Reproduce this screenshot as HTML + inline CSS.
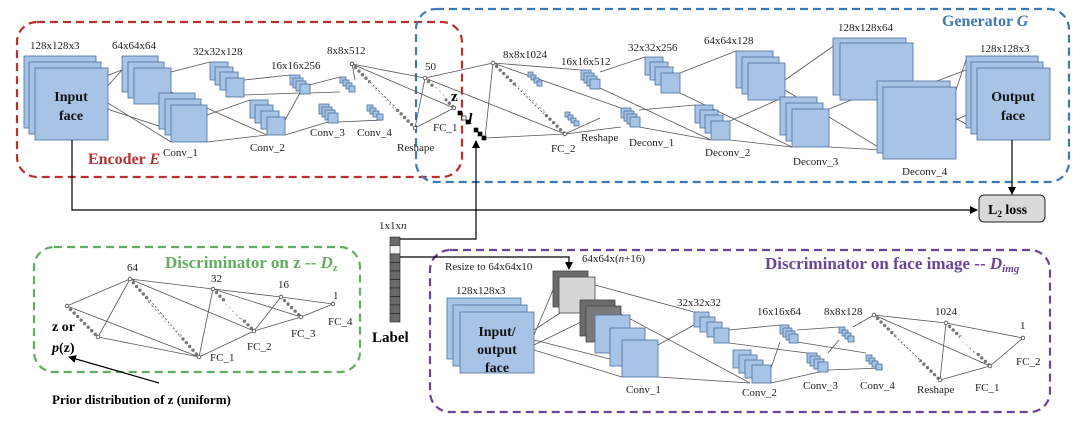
<!DOCTYPE html>
<html><head><meta charset="utf-8"><style>
html,body{margin:0;padding:0;background:#fff;}
svg{display:block;font-family:"Liberation Serif",serif;}
.l{font-size:11px;fill:#222;}
.b{font-weight:bold;}
</style></head><body>
<svg width="1080" height="422" viewBox="0 0 1080 422" xmlns="http://www.w3.org/2000/svg">
<defs>
<marker id="ar" markerWidth="8" markerHeight="8" refX="7" refY="4" orient="auto" markerUnits="userSpaceOnUse"><path d="M0,0 L8,4 L0,8 z" fill="#000"/></marker>
</defs>
<g fill="none" stroke-width="2.2" stroke-dasharray="8,5">
<rect x="17" y="22" width="445" height="155" rx="20" stroke="#b8312f"/>
<rect x="416" y="9" width="653" height="173" rx="20" stroke="#3e78b5"/>
<rect x="34" y="247" width="326" height="125" rx="20" stroke="#62ad5e"/>
<rect x="430" y="250" width="620" height="162" rx="20" stroke="#6b4596"/>
</g>
<g stroke="#555" stroke-width="0.8" fill="none">
<path d="M95,80 L122,70 M95,100 L122,70 M95,95 L171,142 M95,105 L171,130 M171,72 L210,62 M171,92 L267,135 M207,115 L250,100 M207,142 L267,135"/>
<path d="M244,80 L290,75 M244,95 L300,93 M285,120 L300,93 M285,135 L328,122 M309,85 L340,77 M338,122 L383,120 M309,93 L340,92 M355,80 L352,64"/>
<path d="M352,64 L425,78 M352,64 L454,108 M415,128 L425,78 M415,128 L454,108"/>
<path d="M425,78 L493,63 M425,78 L565,134 M485,138 L493,63 M485,138 L565,134"/>
<path d="M493,63 L581,70 M493,63 L621,108 M565,134 L600,118 M565,134 L621,127"/>
<path d="M600,72 L645,57 M600,88 L711,140 M639,110 L695,105 M639,127 L711,140"/>
<path d="M680,73 L736,51 M680,93 L792,147 M730,121 L782,98 M730,140 L792,147"/>
<path d="M785,80 L835,45 M785,90 L883,150 M829,109 L883,87 M829,147 L883,150"/>
<path d="M913,90 L966,70 M913,95 L977,130 M956,90 L966,60 M956,120 L977,110"/>
<path d="M67,306 L130,279 M67,306 L199,357 M98,337 L130,279 M98,337 L199,357 M130,279 L213,289 M130,279 L254,331 M199,357 L213,289 M199,357 L254,331 M213,289 L281,297 M213,289 L301,317 M254,331 L281,297 M254,331 L301,317 M281,297 L333,304 M301,317 L333,304 M213,289 L301,317"/>
<path d="M534,330 L580,300 M534,345 L595,315 M534,335 L553,290 M534,350 L622,377 M534,340 L622,362 M595,285 L694,312 M595,300 L750,383 M658,345 L694,325 M658,377 L750,383"/>
<path d="M729,330 L780,325 M729,343 L807,353 M771,368 L780,342 M771,383 L828,370 M797,330 L839,327 M797,342 L866,353 M828,353 L839,340 M828,370 L883,368"/>
<path d="M853,327 L874,315 M874,315 L946,323 M874,315 L990,366 M940,380 L946,323 M940,380 L990,366 M946,323 L1023,338 M990,366 L1023,338"/>
</g>
<g stroke="#777" stroke-width="3.4" stroke-linecap="round" stroke-dasharray="0 5" fill="none">
<path d="M352,64 L415,128"/><path d="M425,78 L454,108"/><path d="M493,63 L565,134"/>
<path d="M67,306 L98,337"/><path d="M130,279 L199,357"/><path d="M213,289 L254,331"/><path d="M281,297 L301,317"/>
<path d="M874,315 L940,380"/><path d="M946,323 L990,366"/>
</g>
<g fill="#fff" stroke="#fff" stroke-width="3">
<path d="M370,82 L396,108"/><path d="M434,88 L445,99"/><path d="M515,85 L543,113"/><path d="M150,300 L180,336"/><path d="M225,301 L242,318"/><path d="M895,336 L920,360"/><path d="M960,337 L977,352"/>
</g>
<g stroke="#444" stroke-width="0.8" stroke-dasharray="2,2" fill="none">
<path d="M370,82 L396,108"/><path d="M515,85 L543,113"/><path d="M150,300 L180,336"/><path d="M895,336 L920,360"/>
</g>
<g fill="#fff" stroke="#444" stroke-width="0.8">
<circle cx="352" cy="64" r="1.8"/><circle cx="415" cy="128" r="1.8"/><circle cx="425" cy="78" r="1.8"/><circle cx="454" cy="108" r="1.8"/><circle cx="493" cy="63" r="1.8"/><circle cx="565" cy="134" r="1.8"/>
<circle cx="67" cy="306" r="1.8"/><circle cx="98" cy="337" r="1.8"/><circle cx="130" cy="279" r="1.8"/><circle cx="199" cy="357" r="1.8"/><circle cx="213" cy="289" r="1.8"/><circle cx="254" cy="331" r="1.8"/><circle cx="281" cy="297" r="1.8"/><circle cx="301" cy="317" r="1.8"/><circle cx="333" cy="304" r="1.8"/>
<circle cx="874" cy="315" r="1.8"/><circle cx="940" cy="380" r="1.8"/><circle cx="946" cy="323" r="1.8"/><circle cx="990" cy="366" r="1.8"/><circle cx="1023" cy="338" r="1.8"/>
</g>
<g stroke="#000" stroke-width="0.6">
<rect x="458" y="111" width="4" height="4" fill="#000"/><rect x="462" y="116" width="4" height="4" fill="#fff"/><rect x="466" y="120" width="4" height="4" fill="#000"/>
<rect x="474" y="128" width="4" height="4" fill="#000"/><rect x="478" y="132" width="4" height="4" fill="#000"/><rect x="482" y="136" width="4" height="4" fill="#000"/>
</g>
<g fill="#a7c3e5" stroke="#4a6f9c" stroke-width="0.8">
<rect x="24" y="56" width="72" height="72"/><rect x="29" y="62" width="72" height="72"/><rect x="35" y="68" width="73" height="72"/>
<rect x="122" y="56" width="36" height="36"/><rect x="128" y="62" width="36" height="36"/><rect x="134" y="68" width="37" height="36"/>
<rect x="159" y="93" width="36" height="36"/><rect x="165" y="99" width="36" height="36"/><rect x="171" y="105" width="36" height="37"/>
<rect x="210" y="62" width="18" height="18"/><rect x="215" y="67" width="18" height="18"/><rect x="220" y="72" width="18" height="18"/><rect x="226" y="78" width="18" height="19"/>
<rect x="250" y="100" width="18" height="18"/><rect x="255" y="105" width="18" height="18"/><rect x="261" y="111" width="18" height="18"/><rect x="267" y="117" width="18" height="18"/>
<rect x="290" y="75" width="10" height="10"/><rect x="293" y="78" width="10" height="10"/><rect x="296" y="81" width="10" height="10"/><rect x="300" y="84" width="10" height="10"/>
<rect x="319" y="104" width="10" height="10"/><rect x="322" y="107" width="10" height="10"/><rect x="325" y="110" width="10" height="10"/><rect x="328" y="113" width="10" height="10"/>
<rect x="340" y="77" width="6" height="6"/><rect x="343" y="80" width="6" height="6"/><rect x="346" y="83" width="6" height="6"/><rect x="349" y="86" width="6" height="6"/>
<rect x="367" y="105" width="6" height="6"/><rect x="370" y="108" width="6" height="6"/><rect x="373" y="111" width="6" height="6"/><rect x="377" y="114" width="6" height="6"/>
<rect x="528" y="72" width="5" height="5"/><rect x="531" y="75" width="5" height="5"/><rect x="534" y="78" width="5" height="5"/><rect x="537" y="81" width="5" height="5"/>
<rect x="565" y="112" width="5" height="5"/><rect x="568" y="115" width="5" height="5"/><rect x="571" y="118" width="5" height="5"/><rect x="574" y="121" width="5" height="5"/>
<rect x="581" y="70" width="10" height="10"/><rect x="584" y="73" width="10" height="10"/><rect x="587" y="76" width="10" height="10"/><rect x="590" y="79" width="10" height="10"/>
<rect x="621" y="108" width="10" height="10"/><rect x="624" y="111" width="10" height="10"/><rect x="627" y="114" width="10" height="10"/><rect x="630" y="117" width="10" height="10"/>
<rect x="645" y="57" width="18" height="18"/><rect x="650" y="62" width="18" height="18"/><rect x="655" y="67" width="18" height="18"/><rect x="661" y="73" width="19" height="20"/>
<rect x="695" y="105" width="18" height="18"/><rect x="700" y="110" width="18" height="18"/><rect x="705" y="115" width="18" height="18"/><rect x="711" y="121" width="19" height="19"/>
<rect x="736" y="51" width="37" height="37"/><rect x="742" y="57" width="37" height="37"/><rect x="748" y="63" width="37" height="37"/>
<rect x="780" y="97" width="37" height="38"/><rect x="786" y="103" width="37" height="38"/><rect x="792" y="109" width="37" height="38"/>
<rect x="833" y="38" width="73" height="57"/><rect x="840" y="43" width="73" height="57"/>
<rect x="877" y="81" width="73" height="72"/><rect x="883" y="87" width="73" height="72"/>
<rect x="966" y="56" width="72" height="72"/><rect x="971" y="62" width="72" height="72"/><rect x="977" y="68" width="73" height="72"/>
<rect x="447" y="298" width="74" height="61"/><rect x="453" y="305" width="74" height="61"/><rect x="460" y="312" width="74" height="61"/>
<rect x="694" y="312" width="15" height="15"/><rect x="700" y="317" width="15" height="15"/><rect x="707" y="322" width="15" height="15"/><rect x="714" y="328" width="15" height="15"/>
<rect x="733" y="350" width="18" height="18"/><rect x="739" y="355" width="18" height="18"/><rect x="745" y="360" width="18" height="18"/><rect x="752" y="365" width="19" height="18"/>
<rect x="780" y="325" width="9" height="9"/><rect x="783" y="328" width="9" height="9"/><rect x="786" y="331" width="9" height="9"/><rect x="789" y="334" width="9" height="9"/>
<rect x="807" y="353" width="10" height="10"/><rect x="810" y="356" width="10" height="10"/><rect x="814" y="359" width="10" height="10"/><rect x="818" y="362" width="10" height="10"/>
<rect x="839" y="327" width="6" height="6"/><rect x="842" y="330" width="6" height="6"/><rect x="845" y="333" width="6" height="6"/><rect x="848" y="336" width="6" height="6"/>
<rect x="866" y="355" width="6" height="6"/><rect x="869" y="358" width="6" height="6"/><rect x="872" y="361" width="6" height="6"/><rect x="876" y="364" width="6" height="6"/>
</g>
<g stroke="#444" stroke-width="0.8">
<rect x="553" y="271" width="35" height="36" fill="#6b6b6b"/><rect x="559" y="277" width="36" height="36" fill="#d6d6d6"/>
<rect x="580" y="300" width="35" height="36" fill="#6b6b6b"/><rect x="586" y="306" width="35" height="36" fill="#7a7a7a"/>
</g>
<g fill="#a7c3e5" stroke="#4a6f9c" stroke-width="0.8"><rect x="595" y="315" width="35" height="38"/><rect x="610" y="328" width="35" height="38"/><rect x="622" y="340" width="36" height="37"/></g>
<g stroke="#222" stroke-width="0.6" fill="#6a6a6a">
<rect x="390" y="237" width="10" height="8.5"/><rect x="390" y="245.5" width="10" height="8.5" fill="#f0f0f0"/><rect x="390" y="254" width="10" height="8.5"/><rect x="390" y="262.5" width="10" height="8.5"/><rect x="390" y="271" width="10" height="8.5"/><rect x="390" y="279.5" width="10" height="8.5"/><rect x="390" y="288" width="10" height="8.5"/><rect x="390" y="296.5" width="10" height="8.5"/><rect x="390" y="305" width="10" height="8.5"/><rect x="390" y="313.5" width="10" height="8.5"/>
</g>
<g stroke="#000" stroke-width="1.2" fill="none">
<path d="M72,140 L72,210 L977,210" marker-end="url(#ar)"/>
<path d="M1012,140 L1012,194" marker-end="url(#ar)"/>
<path d="M400,239 L476,239 L476,141" marker-end="url(#ar)"/>
<path d="M400,257 L569,257 L569,269" marker-end="url(#ar)"/>
<path d="M159,383 L69,357" marker-end="url(#ar)"/>
</g>
<rect x="979" y="195" width="66" height="27" rx="5" fill="#d9d9d9" stroke="#222" stroke-width="1"/>
<text x="988" y="214" font-size="14" class="b">L<tspan font-size="9" dy="3">2</tspan><tspan dy="-3"> loss</tspan></text>
<g class="l">
<text x="30" y="49">128x128x3</text><text x="112" y="49">64x64x64</text><text x="193" y="55">32x32x128</text><text x="271" y="69">16x16x256</text><text x="327" y="54">8x8x512</text>
<text x="163" y="156">Conv_1</text><text x="250" y="151">Conv_2</text><text x="310" y="136">Conv_3</text><text x="357" y="136">Conv_4</text><text x="397" y="151">Reshape</text>
<text x="425" y="70">50</text><text x="433" y="131">FC_1</text>
<text x="503" y="58">8x8x1024</text><text x="561" y="65">16x16x512</text><text x="551" y="152">FC_2</text><text x="581" y="141">Reshape</text>
<text x="628" y="51">32x32x256</text><text x="629" y="146">Deconv_1</text><text x="704" y="44">64x64x128</text><text x="705" y="156">Deconv_2</text>
<text x="838" y="31">128x128x64</text><text x="793" y="165">Deconv_3</text><text x="902" y="175">Deconv_4</text><text x="980" y="52">128x128x3</text>
<text x="379" y="229">1x1x<tspan font-style="italic">n</tspan></text>
<text x="127" y="271">64</text><text x="211" y="282">32</text><text x="278" y="288">16</text><text x="333" y="299">1</text>
<text x="210" y="361">FC_1</text><text x="247" y="350">FC_2</text><text x="291" y="337">FC_3</text><text x="328" y="325">FC_4</text>
<text x="445" y="270">Resize to 64x64x10</text><text x="582" y="262">64x64x(<tspan font-style="italic">n</tspan>+16)</text>
<text x="456" y="294">128x128x3</text><text x="677" y="306">32x32x32</text><text x="757" y="315">16x16x64</text><text x="824" y="315">8x8x128</text><text x="935" y="315">1024</text><text x="1020" y="329">1</text>
<text x="626" y="393">Conv_1</text><text x="742" y="396">Conv_2</text><text x="803" y="389">Conv_3</text><text x="860" y="389">Conv_4</text><text x="917" y="393">Reshape</text><text x="975" y="391">FC_1</text><text x="1016" y="365">FC_2</text>
</g>
<g class="b" font-size="14" fill="#111" text-anchor="middle">
<text x="71" y="101">Input</text><text x="71" y="120">face</text>
<text x="1013" y="101">Output</text><text x="1013" y="120">face</text>
<text x="497" y="336">Input/</text><text x="497" y="354">output</text><text x="497" y="372">face</text>
</g>
<text x="451" y="101" font-size="15" class="b">z</text>
<text x="468" y="124" font-size="16" class="b" font-style="italic">l</text>
<text x="372" y="342" font-size="15" class="b">Label</text>
<text x="52" y="331" font-size="14" class="b">z or</text>
<text x="52" y="352" font-size="14" class="b"><tspan font-style="italic">p</tspan>(z)</text>
<text x="52" y="404" font-size="13" class="b">Prior distribution of z (uniform)</text>
<text x="88" y="164" font-size="16" class="b" fill="#b8312f">Encoder <tspan font-style="italic">E</tspan></text>
<text x="942" y="26" font-size="16" class="b" fill="#3e78b5">Generator <tspan font-style="italic">G</tspan></text>
<text x="165" y="268" font-size="17" class="b" fill="#62ad5e">Discriminator on z -- <tspan font-style="italic">D</tspan><tspan font-size="11" dy="3">z</tspan></text>
<text x="765" y="269" font-size="17" class="b" fill="#6b4596">Discriminator on face image -- <tspan font-style="italic">D</tspan><tspan font-size="11" dy="3" font-style="italic">img</tspan></text>
</svg>
</body></html>
